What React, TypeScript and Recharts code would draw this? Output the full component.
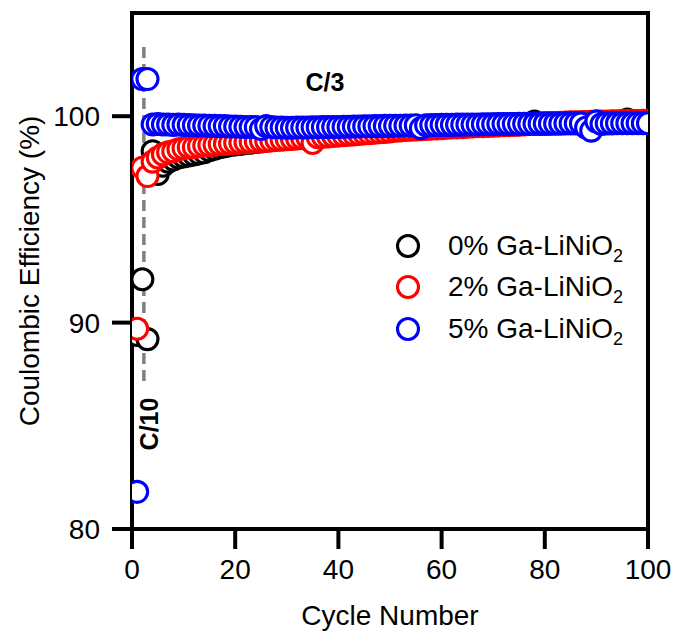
import React from "react";
import {
  ScatterChart,
  Scatter,
  XAxis,
  YAxis,
  ReferenceLine,
  Customized,
} from "recharts";

// cycle numbers 1..100
const cycles = Array.from({ length: 100 }, (_, i) => i + 1);

const xTicks = [0, 20, 40, 60, 80, 100];
const yTicks = [80, 90, 100];

// 0% Ga-LiNiO2
const ce0 = [
  89.4, 92.1, 89.2, 98.3, 97.2, 97.6, 97.8, 97.9, 98.0, 98.05,
  98.1, 98.15, 98.2, 98.25, 98.35, 98.42, 98.5, 98.55, 98.6, 98.63,
  98.66, 98.7, 98.72, 98.75, 98.78, 98.82, 98.85, 98.88, 98.9, 98.93,
  98.96, 98.98, 99.0, 99.02, 99.0, 99.06, 99.08, 99.1, 99.12, 99.14,
  99.16, 99.18, 99.2, 99.22, 99.24, 99.26, 99.28, 99.3, 99.32, 99.34,
  99.36, 99.38, 99.39, 99.41, 99.42, 99.44, 99.45, 99.46, 99.48, 99.49,
  99.5, 99.51, 99.52, 99.53, 99.54, 99.55, 99.56, 99.57, 99.58, 99.59,
  99.59, 99.6, 99.6, 99.61, 99.61, 99.62, 99.63, 99.74, 99.63, 99.64,
  99.65, 99.66, 99.67, 99.67, 99.68, 99.68, 99.69, 99.7, 99.7, 99.71,
  99.72, 99.72, 99.73, 99.73, 99.74, 99.84, 99.75, 99.75, 99.76, 99.76,
];

// 2% Ga-LiNiO2
const ce2 = [
  89.7, 97.5, 97.1, 97.8, 98.0, 98.15, 98.25, 98.3, 98.4, 98.45,
  98.5, 98.5, 98.55, 98.58, 98.6, 98.62, 98.65, 98.66, 98.68, 98.7,
  98.72, 98.74, 98.75, 98.77, 98.8, 98.8, 98.82, 98.85, 98.86, 98.88,
  98.9, 98.92, 98.93, 98.95, 98.7, 98.98, 99.0, 99.02, 99.04, 99.06,
  99.08, 99.1, 99.12, 99.14, 99.16, 99.18, 99.2, 99.22, 99.24, 99.26,
  99.3, 99.31, 99.33, 99.34, 99.36, 99.37, 99.38, 99.4, 99.41, 99.42,
  99.44, 99.45, 99.46, 99.47, 99.49, 99.5, 99.51, 99.52, 99.53, 99.54,
  99.55, 99.56, 99.57, 99.58, 99.59, 99.6, 99.62, 99.63, 99.64, 99.65,
  99.66, 99.67, 99.68, 99.69, 99.7, 99.7, 99.71, 99.72, 99.73, 99.73,
  99.74, 99.74, 99.75, 99.75, 99.76, 99.76, 99.77, 99.77, 99.78, 99.78,
];

// 5% Ga-LiNiO2
const ce5 = [
  81.8, 101.8, 101.8, 99.6, 99.62, 99.6, 99.6, 99.58, 99.6, 99.58,
  99.57, 99.56, 99.55, 99.55, 99.54, 99.53, 99.52, 99.52, 99.5, 99.5,
  99.49, 99.48, 99.48, 99.47, 99.38, 99.52, 99.48, 99.45, 99.45, 99.44,
  99.44, 99.45, 99.45, 99.45, 99.46, 99.46, 99.47, 99.47, 99.48, 99.48,
  99.49, 99.49, 99.5, 99.5, 99.51, 99.51, 99.52, 99.52, 99.53, 99.53,
  99.54, 99.54, 99.55, 99.55, 99.56, 99.42, 99.56, 99.57, 99.57, 99.58,
  99.58, 99.58, 99.59, 99.59, 99.6, 99.6, 99.6, 99.61, 99.61, 99.61,
  99.62, 99.62, 99.62, 99.62, 99.63, 99.63, 99.63, 99.63, 99.64, 99.64,
  99.64, 99.64, 99.64, 99.65, 99.65, 99.65, 99.65, 99.45, 99.3, 99.75,
  99.62, 99.65, 99.65, 99.66, 99.66, 99.66, 99.66, 99.66, 99.66, 99.66,
];

const seriesNames = ["0% Ga-LiNiO", "2% Ga-LiNiO", "5% Ga-LiNiO"];
const seriesColors = ["#000000", "#ff0000", "#0000ff"];
const seriesValues = [ce0, ce2, ce5];

// C/10 -> C/3 rate change marker
const rateSwitchCycle = 2.3;
const rateLineTop = 103.35;
const rateLineBottom = 87.1;

const FONT = "'Liberation Sans', Arial, sans-serif";
const MARKER_R = 10.5;
const MARKER_W = 3.1;

const toPoints = (vals: number[]) => vals.map((v, i) => ({ cycle: cycles[i], ce: v }));

const makeShape = (color: string) => (p: any) =>
  <circle cx={p.cx} cy={p.cy} r={MARKER_R} fill="#fff" stroke={color} strokeWidth={MARKER_W} />;

function LegendBox() {
  return (
    <div style={{ position: "absolute", left: 395, top: 225, fontFamily: FONT, fontSize: 28, color: "#000", lineHeight: 1 }}>
      {seriesNames.map((name, i) => (
        <div key={name} style={{ display: "flex", alignItems: "center", height: 41.5 }}>
          <svg width={26} height={26} style={{ marginRight: 27 }}>
            <circle cx={13} cy={13} r={MARKER_R} fill="#fff" stroke={seriesColors[i]} strokeWidth={MARKER_W} />
          </svg>
          <span style={{ whiteSpace: "nowrap" }}>
            {name}
            <sub style={{ fontSize: 18, lineHeight: 0 }}>2</sub>
          </span>
        </div>
      ))}
    </div>
  );
}

function Labels() {
  return (
    <g fontFamily={FONT} fill="#000">
      <text x={29} y={271} fontSize={28} textAnchor="middle" dominantBaseline="central" transform="rotate(-90, 29, 271)">
        Coulombic Efficiency (%)
      </text>
      <text x={390} y={615} fontSize={28} textAnchor="middle" dominantBaseline="central">
        Cycle Number
      </text>
      <text x={325} y={82} fontSize={25} fontWeight="bold" textAnchor="middle" dominantBaseline="central">
        C/3
      </text>
      <text x={149} y={424} fontSize={25} fontWeight="bold" textAnchor="middle" dominantBaseline="central" transform="rotate(-90, 149, 424)">
        C/10
      </text>
    </g>
  );
}

export default function App() {
  const axisStroke = { stroke: "#000", strokeWidth: 4, strokeLinecap: "square" as const };
  return (
    <div style={{ position: "absolute", left: 0, top: 0, width: 673, height: 635, background: "#fff" }}>
      <ScatterChart width={673} height={635} margin={{ top: 13, right: 25, bottom: 46, left: 52 }}>
        <XAxis
          type="number"
          dataKey="cycle"
          domain={[0, 100]}
          ticks={xTicks}
          allowDataOverflow
          tickSize={18}
          tickMargin={12}
          axisLine={axisStroke}
          tickLine={axisStroke}
          tick={{ fontSize: 28, fontFamily: FONT, fill: "#000" }}
          height={60}
        />
        <YAxis
          type="number"
          dataKey="ce"
          domain={[80, 105]}
          ticks={yTicks}
          allowDataOverflow
          tickSize={18}
          tickMargin={14}
          axisLine={axisStroke}
          tickLine={axisStroke}
          tick={{ fontSize: 28, fontFamily: FONT, fill: "#000" }}
          width={80}
        />
        <ReferenceLine
          segment={[
            { x: rateSwitchCycle, y: rateLineTop },
            { x: rateSwitchCycle, y: rateLineBottom },
          ]}
          stroke="#808080"
          strokeWidth={3.5}
          strokeDasharray="11 6"
        />
        {seriesValues.map((vals, i) => (
          <Scatter
            key={seriesNames[i]}
            name={seriesNames[i]}
            data={toPoints(vals)}
            fill={seriesColors[i]}
            shape={makeShape(seriesColors[i])}
            isAnimationActive={false}
          />
        ))}
        <ReferenceLine y={105} stroke="#000" strokeWidth={4} strokeLinecap="square" />
        <ReferenceLine x={100} stroke="#000" strokeWidth={4} strokeLinecap="square" />
        <Customized component={Labels} />
      </ScatterChart>
      <LegendBox />
    </div>
  );
}
